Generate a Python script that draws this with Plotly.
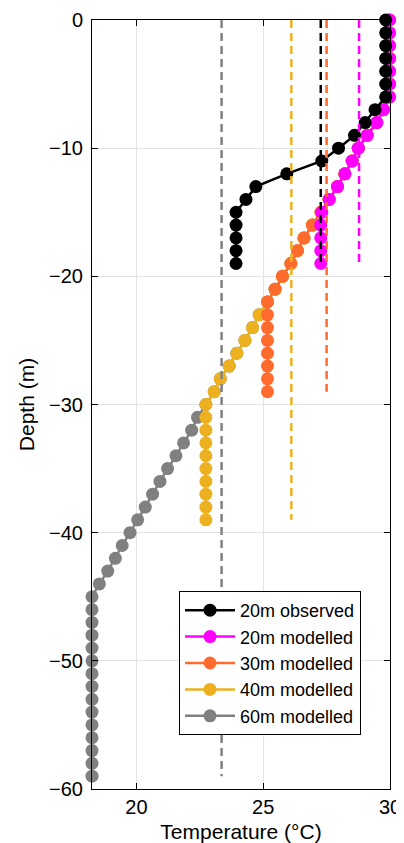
import plotly.graph_objects as go

# ---------------- data ----------------
depth_20 = [0, -1, -2, -3, -4, -5, -6, -7, -8, -9, -10, -11, -12, -13, -14, -15, -16, -17, -18, -19]
depth_30 = depth_20 + [-20, -21, -22, -23, -24, -25, -26, -27, -28, -29]
depth_40 = depth_30 + [-30, -31, -32, -33, -34, -35, -36, -37, -38, -39]
depth_60 = depth_40 + [-40, -41, -42, -43, -44, -45, -46, -47, -48, -49,
                       -50, -51, -52, -53, -54, -55, -56, -57, -58, -59]

obs_20m = [29.83, 29.83, 29.83, 29.83, 29.83, 29.83, 29.83, 29.41, 29.02, 28.60,
           27.97, 27.31, 25.93, 24.71, 24.32, 23.93, 23.93, 23.93, 23.93, 23.93]

mod_20m = [29.98, 29.98, 29.98, 29.98, 29.98, 29.98, 29.98, 29.74, 29.48, 29.10,
           28.75, 28.51, 28.22, 27.93, 27.60, 27.31, 27.27, 27.27, 27.27, 27.27]

mod_30m = [29.98, 29.98, 29.98, 29.98, 29.98, 29.98, 29.98, 29.74, 29.48, 29.10,
           28.75, 28.51, 28.22, 27.93, 27.60, 27.28, 26.94, 26.61, 26.35, 26.09,
           25.76, 25.47, 25.17, 25.17, 25.17, 25.17, 25.17, 25.17, 25.17, 25.17]

mod_40m = [29.98, 29.98, 29.98, 29.98, 29.98, 29.98, 29.98, 29.74, 29.48, 29.10,
           28.75, 28.51, 28.22, 27.93, 27.60, 27.28, 26.94, 26.61, 26.35, 26.09,
           25.76, 25.47, 25.17, 24.84, 24.58, 24.28, 23.96, 23.66, 23.31, 23.07,
           22.74, 22.74, 22.74, 22.74, 22.74, 22.74, 22.74, 22.74, 22.74, 22.74]

mod_60m = [29.98, 29.98, 29.98, 29.98, 29.98, 29.98, 29.98, 29.74, 29.48, 29.10,
           28.75, 28.51, 28.22, 27.93, 27.60, 27.28, 26.94, 26.61, 26.35, 26.09,
           25.76, 25.47, 25.17, 24.84, 24.58, 24.28, 23.96, 23.66, 23.31, 23.07,
           22.74, 22.41, 22.18, 21.86, 21.56, 21.23, 20.93, 20.64, 20.35, 20.05,
           19.75, 19.44, 19.17, 18.87, 18.54, 18.25, 18.25, 18.25, 18.25, 18.25,
           18.25, 18.25, 18.25, 18.25, 18.25, 18.25, 18.25, 18.25, 18.25, 18.25]

# mean temperature of each profile (dashed verticals)
mean_temps = [27.27, 28.78, 27.50, 26.11, 23.36]
mean_bottoms = [-19, -19, -29, -39, -59]

names = ["20m observed", "20m modelled", "30m modelled", "40m modelled", "60m modelled"]
colors = ["#000000", "#FF00FF", "#FF6B2D", "#EDB120", "#808080"]
profiles = [obs_20m, mod_20m, mod_30m, mod_40m, mod_60m]
depths = [depth_20, depth_20, depth_30, depth_40, depth_60]

x_ticks = [20, 25, 30]
y_ticks = [0, -10, -20, -30, -40, -50, -60]

FONT = "Liberation Sans, Arial, Helvetica, sans-serif"

fig = go.Figure()

# profiles, drawn bottom-up (gray first, black on top)
for i in reversed(range(5)):
    fig.add_trace(go.Scatter(
        x=profiles[i], y=depths[i], name=names[i],
        mode="lines+markers",
        line=dict(color=colors[i], width=2.5),
        marker=dict(color=colors[i], size=13),
        cliponaxis=False,
        legendrank=i + 1,
    ))

# mean dashed lines on top
for i in reversed(range(5)):
    fig.add_trace(go.Scatter(
        x=[mean_temps[i], mean_temps[i]], y=[0, mean_bottoms[i]],
        mode="lines", showlegend=False,
        line=dict(color=colors[i], width=2.5, dash="8px,5px"),
        cliponaxis=False, hoverinfo="skip",
    ))

axis_common = dict(
    showline=True, linecolor="black", linewidth=1, mirror="ticks",
    ticks="inside", ticklen=6, tickcolor="black", tickwidth=1,
    showgrid=True, gridcolor="#e3e3e3", gridwidth=1, zeroline=False,
    tickfont=dict(family=FONT, size=20, color="black"),
    automargin=False,
)

# page body adds an 8px offset, so the figure is sized/margined to compensate
fig.update_layout(
    width=396, height=835,
    margin=dict(l=84, r=14, t=12, b=54),
    paper_bgcolor="white", plot_bgcolor="white",
    font=dict(family=FONT, size=20, color="black"),
    xaxis=dict(range=[18.25, 30.0], tickvals=x_ticks, ticklabelstandoff=0,
               title=dict(text="Temperature (°C)", font=dict(family=FONT, size=21)),
               **axis_common),
    yaxis=dict(range=[-60, 0], tickvals=y_ticks, ticklabelstandoff=4,
               title=dict(text="Depth (m)", font=dict(family=FONT, size=21), standoff=8),
               **axis_common),
    legend=dict(
        x=0.292, y=0.2575, xanchor="left", yanchor="top",
        bgcolor="white", bordercolor="black", borderwidth=1,
        font=dict(family=FONT, size=18, color="black"),
        tracegroupgap=0, itemwidth=50,
    ),
    showlegend=True,
)

fig.write_html("out.html")
